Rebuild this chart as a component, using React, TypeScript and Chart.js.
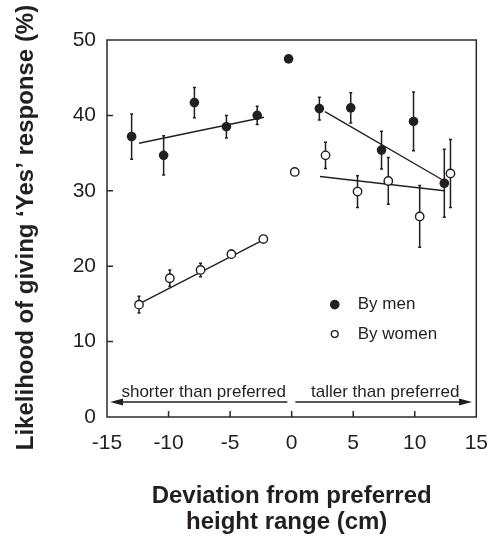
import React, { useEffect, useRef } from "react";
import { Chart, registerables } from "chart.js";

Chart.register(...registerables);

// Deviation (cm) from the preferred height range, likelihood (%) of a "Yes", and error half-widths
const menX = [-13.0, -10.4, -7.9, -5.3, -2.8, -0.25, 2.25, 4.8, 7.3, 9.9, 12.4];
const menY = [37.2, 34.7, 41.7, 38.5, 40.0, 47.5, 40.9, 41.0, 35.4, 39.2, 31.0];
const menErr = [3.0, 2.6, 2.0, 1.5, 1.2, 0, 1.5, 2.0, 2.5, 3.9, 4.5];

const womenX = [-12.4, -9.9, -7.4, -4.9, -2.3, 0.25, 2.75, 5.35, 7.85, 10.4, 12.9];
const womenY = [14.9, 18.4, 19.5, 21.6, 23.6, 32.5, 34.7, 29.9, 31.3, 26.6, 32.3];
const womenErr = [1.1, 1.1, 0.9, 0.5, 0.3, 0, 1.75, 2.1, 3.1, 4.1, 4.5];

// Fitted trend lines (end points) on each side of the preferred range
const menFitLeftX = [-12.4, -2.25];
const menFitLeftY = [36.3, 39.75];
const menFitRightX = [2.7, 12.2];
const menFitRightY = [40.5, 31.5];
const womenFitLeftX = [-12.4, -2.3];
const womenFitLeftY = [15.0, 23.5];
const womenFitRightX = [2.3, 12.4];
const womenFitRightY = [31.9, 30.0];

const xTicks = [-15, -10, -5, 0, 5, 10, 15];
const yTicks = [0, 10, 20, 30, 40, 50];

const legendLabels = ["By men", "By women"];
const directionLabels = ["shorter than preferred", "taller than preferred"];
const xTitleLines = ["Deviation from preferred", "height range (cm)"];
const yTitle = "Likelihood of giving \u2018Yes\u2019 response (%)";

const FONT = '"Liberation Sans", Arial, Helvetica, sans-serif';
const INK = "#231f20";

const pts = (xs: number[], ys: number[]) => xs.map((v, i) => ({ x: v, y: ys[i] }));

const decorations = {
  id: "decorations",
  beforeDatasetsDraw(chart: any) {
    const { ctx, scales } = chart;
    const x = scales.x;
    const y = scales.y;
    ctx.save();
    ctx.strokeStyle = INK;
    ctx.lineWidth = 1.5;
    const bars = (xs: number[], ys: number[], es: number[]) => {
      xs.forEach((v, i) => {
        if (!es[i]) return;
        const px = x.getPixelForValue(v);
        const top = y.getPixelForValue(ys[i] + es[i]);
        const bot = y.getPixelForValue(ys[i] - es[i]);
        ctx.beginPath();
        ctx.moveTo(px, top);
        ctx.lineTo(px, bot);
        ctx.moveTo(px - 1.5, top);
        ctx.lineTo(px + 1.5, top);
        ctx.moveTo(px - 1.5, bot);
        ctx.lineTo(px + 1.5, bot);
        ctx.stroke();
      });
    };
    bars(menX, menY, menErr);
    bars(womenX, womenY, womenErr);
    ctx.restore();
  },
  afterDraw(chart: any) {
    const { ctx, chartArea: a, scales } = chart;
    const x = scales.x;
    const y = scales.y;
    ctx.save();

    // plot frame
    ctx.strokeStyle = "#2b2b2b";
    ctx.lineWidth = 1.5;
    ctx.strokeRect(a.left, a.top, a.right - a.left, a.bottom - a.top);

    // inward tick marks
    ctx.beginPath();
    xTicks.slice(1, -1).forEach((v) => {
      const px = x.getPixelForValue(v);
      ctx.moveTo(px, a.bottom);
      ctx.lineTo(px, a.bottom - 6);
    });
    yTicks.slice(1, -1).forEach((v) => {
      const py = y.getPixelForValue(v);
      ctx.moveTo(a.left, py);
      ctx.lineTo(a.left + 6, py);
    });
    ctx.stroke();

    // direction arrows near the x axis
    const ay = y.getPixelForValue(2);
    const arrow = (from: number, to: number) => {
      const x0 = x.getPixelForValue(from);
      const x1 = x.getPixelForValue(to);
      const dir = Math.sign(x1 - x0);
      ctx.strokeStyle = INK;
      ctx.lineWidth = 1.5;
      ctx.beginPath();
      ctx.moveTo(x0, ay);
      ctx.lineTo(x1 - dir * 10, ay);
      ctx.stroke();
      ctx.fillStyle = INK;
      ctx.beginPath();
      ctx.moveTo(x1, ay);
      ctx.lineTo(x1 - dir * 13, ay - 3.5);
      ctx.lineTo(x1 - dir * 13, ay + 3.5);
      ctx.closePath();
      ctx.fill();
    };
    arrow(-0.35, -14.75);
    arrow(0.3, 14.65);

    ctx.fillStyle = INK;
    ctx.font = `17px ${FONT}`;
    ctx.textAlign = "center";
    ctx.textBaseline = "alphabetic";
    ctx.fillText(directionLabels[0], x.getPixelForValue(-7.15), ay - 5);
    ctx.fillText(directionLabels[1], x.getPixelForValue(7.6), ay - 5);

    // legend
    const lx = x.getPixelForValue(3.5);
    const ly1 = y.getPixelForValue(14.9);
    const ly2 = y.getPixelForValue(11.0);
    ctx.fillStyle = INK;
    ctx.beginPath();
    ctx.arc(lx, ly1, 4.8, 0, Math.PI * 2);
    ctx.fill();
    ctx.fillStyle = "#ffffff";
    ctx.strokeStyle = INK;
    ctx.lineWidth = 1.4;
    ctx.beginPath();
    ctx.arc(lx, ly2, 3.4, 0, Math.PI * 2);
    ctx.fill();
    ctx.stroke();
    ctx.fillStyle = INK;
    ctx.font = `17px ${FONT}`;
    ctx.textAlign = "left";
    ctx.textBaseline = "middle";
    ctx.fillText(legendLabels[0], lx + 23, ly1);
    ctx.fillText(legendLabels[1], lx + 23, ly2);

    // axis titles
    ctx.font = `bold 24px ${FONT}`;
    ctx.textAlign = "center";
    ctx.textBaseline = "alphabetic";
    const cx = x.getPixelForValue(0);
    ctx.fillText(xTitleLines[0], cx, a.bottom + 86);
    ctx.fillText(xTitleLines[1], cx - 5, a.bottom + 112);

    ctx.translate(33, (a.top + a.bottom) / 2 - 1);
    ctx.rotate(-Math.PI / 2);
    ctx.fillText(yTitle, 0, 0);

    ctx.restore();
  },
};

export default function App() {
  const canvasRef = useRef<HTMLCanvasElement | null>(null);

  useEffect(() => {
    const canvas = canvasRef.current;
    if (!canvas) return;
    const lineDs = (xs: number[], ys: number[]) => ({
      type: "line" as const,
      data: pts(xs, ys),
      borderColor: INK,
      borderWidth: 1.4,
      pointRadius: 0,
      fill: false,
      showLine: true,
    });
    const chart = new Chart(canvas, {
      type: "scatter",
      data: {
        datasets: [
          {
            label: legendLabels[1],
            data: pts(womenX, womenY),
            pointRadius: 4.2,
            pointBackgroundColor: "#ffffff",
            pointBorderColor: INK,
            pointBorderWidth: 1.4,
          },
          {
            label: legendLabels[0],
            data: pts(menX, menY),
            pointRadius: 4.8,
            pointBackgroundColor: INK,
            pointBorderColor: INK,
            pointBorderWidth: 0,
          },
          lineDs(menFitLeftX, menFitLeftY),
          lineDs(menFitRightX, menFitRightY),
          lineDs(womenFitLeftX, womenFitLeftY),
          lineDs(womenFitRightX, womenFitRightY),
        ] as any,
      },
      options: {
        animation: false,
        responsive: false,
        devicePixelRatio: 1,
        layout: { padding: { top: 40, right: 17, left: 0, bottom: 0 } },
        plugins: {
          legend: { display: false },
          tooltip: { enabled: false },
        },
        scales: {
          x: {
            type: "linear",
            min: -15,
            max: 15,
            afterBuildTicks: (s: any) => {
              s.ticks = xTicks.map((v) => ({ value: v }));
            },
            afterFit: (s: any) => {
              s.height = 120;
            },
            grid: { display: false, drawTicks: false },
            border: { display: false },
            ticks: {
              padding: 14,
              color: INK,
              font: { family: FONT, size: 21 },
              maxRotation: 0,
              autoSkip: false,
            },
          },
          y: {
            type: "linear",
            min: 0,
            max: 50,
            afterBuildTicks: (s: any) => {
              s.ticks = yTicks.map((v) => ({ value: v }));
            },
            afterFit: (s: any) => {
              s.width = 107;
            },
            grid: { display: false, drawTicks: false },
            border: { display: false },
            ticks: {
              padding: 11,
              color: INK,
              font: { family: FONT, size: 21 },
              autoSkip: false,
            },
          },
        },
      },
      plugins: [decorations],
    });
    return () => chart.destroy();
  }, []);

  return (
    <div style={{ position: "fixed", left: 0, top: 0, width: 502, height: 537, background: "#ffffff" }}>
      <canvas ref={canvasRef} width={502} height={537} style={{ display: "block" }} />
    </div>
  );
}
